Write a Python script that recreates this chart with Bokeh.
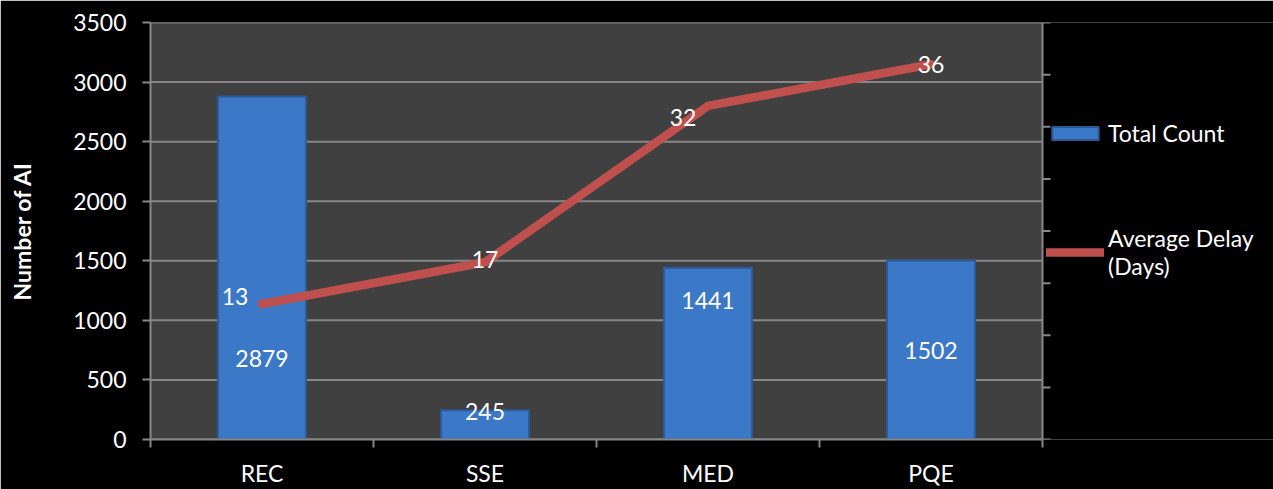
from bokeh.plotting import figure
from bokeh.models import (ColumnDataSource, Range1d, LinearAxis, FixedTicker, LabelSet,
                          Legend, LegendItem, CustomJSTickFormatter, BoxAnnotation)
from bokeh.core.properties import value
from bokeh.embed import file_html
from bokeh.resources import INLINE

# ---- data ----
categories = ["REC", "SSE", "MED", "PQE"]
total_count = [2879, 245, 1441, 1502]
average_delay = [13, 17, 32, 36]
count_tick_values = [0, 500, 1000, 1500, 2000, 2500, 3000, 3500]
delay_tick_values = [0, 5, 10, 15, 20, 25, 30, 35, 40]

# label placement (positions only)
count_label_y = [680, 234, 1165, 745]
delay_label_dx = [-27, 0, -25, 0]
delay_label_dy = [7, 3, -12, 0]

FONT = "Lato"
FS = "23px"
GRID = "#878787"
N = len(categories)
centers = [i + 0.5 for i in range(N)]          # category slots on the x scale
legend_room = 231 / 223                          # extra x-space for legend, in slot widths

src = ColumnDataSource(dict(
    x=centers, cat=categories, count=total_count, delay=average_delay,
    count_txt=[str(v) for v in total_count], delay_txt=[str(v) for v in average_delay],
    count_ly=count_label_y, ddx=delay_label_dx, ddy=delay_label_dy,
))

p = figure(width=1273, height=489, output_backend="svg", toolbar_location=None,
           x_range=Range1d(0, N + legend_room), y_range=Range1d(0, 3500), x_axis_type=None,
           min_border_left=150, min_border_right=0, min_border_top=22, min_border_bottom=48)
p.background_fill_color = "black"
p.border_fill_color = "black"
p.outline_line_color = None
p.extra_y_ranges = {"delay": Range1d(0, 40)}
p.xgrid.grid_line_color = None
p.ygrid.grid_line_color = None

# plot area
p.add_layout(BoxAnnotation(left=0, right=N, fill_color="#404040", fill_alpha=1,
                           line_color=None, level="underlay"))
p.segment(x0=0, x1=N, y0=count_tick_values, y1=count_tick_values,
          line_color=GRID, line_width=2)

empty_fmt = CustomJSTickFormatter(code="return ''")

# left axis
ya = p.yaxis[0]
ya.ticker = FixedTicker(ticks=count_tick_values)
ya.axis_label = "Number of AI"
ya.axis_label_text_font = FONT
ya.axis_label_text_font_style = "bold"
ya.axis_label_text_font_size = FS
ya.axis_label_text_color = "white"
ya.axis_label_standoff = 34
ya.major_label_text_font = FONT
ya.major_label_text_font_size = FS
ya.major_label_text_color = "white"
ya.major_label_standoff = 16
ya.major_tick_out = 8
ya.major_tick_in = 0
ya.minor_tick_line_color = None
ya.axis_line_color = GRID
ya.axis_line_width = 2
ya.major_tick_line_color = GRID
ya.major_tick_line_width = 2

# bottom: ticks at category boundaries, then category names
bx = LinearAxis(ticker=FixedTicker(ticks=list(range(N + 1))), bounds=(0, N),
                formatter=empty_fmt,
                major_tick_out=8, major_tick_in=0, major_label_text_font_size="1px",
                major_label_standoff=0, minor_tick_line_color=None,
                axis_line_color=GRID, axis_line_width=2,
                major_tick_line_color=GRID, major_tick_line_width=2)
p.add_layout(bx, "below")
cx = LinearAxis(ticker=FixedTicker(ticks=centers), bounds=(0, N),
                major_label_overrides={c: name for c, name in zip(centers, categories)},
                axis_line_color=None, major_tick_line_color=None, major_tick_out=0,
                minor_tick_line_color=None,
                major_label_standoff=11, major_label_text_font=FONT,
                major_label_text_font_size=FS, major_label_text_color="white")
p.add_layout(cx, "below")

# right (secondary) axis line and ticks, drawn at the edge of the category area
p.segment(x0=N, x1=N, y0=0, y1=40, y_range_name="delay", line_color=GRID, line_width=2)
p.ray(x=N, y=delay_tick_values, length=8, length_units="screen", angle=0,
      y_range_name="delay", line_color=GRID, line_width=2)

bars = p.vbar(x="x", top="count", width=0.395, source=src,
              fill_color="#3B78C8", line_color="#2C5A96", line_width=2)
line = p.line(x="x", y="delay", source=src, y_range_name="delay",
              line_color="#C0504D", line_width=8.5, line_cap="round", line_join="round")

p.add_layout(LabelSet(x="x", y="count_ly", text="count_txt", source=src,
                      text_align="center", text_baseline="middle", text_color="white",
                      text_font=value(FONT), text_font_size=value(FS)))
p.add_layout(LabelSet(x="x", y="delay", text="delay_txt", source=src, y_range_name="delay",
                      x_offset="ddx", y_offset="ddy",
                      text_align="center", text_baseline="middle", text_color="white",
                      text_font=value(FONT), text_font_size=value(FS)))

legend = Legend(items=[LegendItem(label="Total Count", renderers=[bars]),
                       LegendItem(label="Average Delay\n(Days)", renderers=[line])],
                location=(896, 159), orientation="vertical",
                background_fill_alpha=0, border_line_color=None,
                label_text_color="white", label_text_font=FONT, label_text_font_size=FS,
                glyph_width=58, glyph_height=16, label_standoff=4, spacing=77,
                padding=0, margin=0)
p.add_layout(legend, "center")

open("out.html", "w").write(file_html(p, INLINE))
